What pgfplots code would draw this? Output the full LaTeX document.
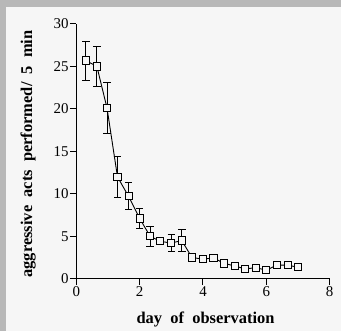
\documentclass[border=0pt]{standalone}
\usepackage{pgfplots}
\pgfplotsset{compat=1.18}
\usepackage{fontspec}
\setmainfont{Liberation Serif}
\definecolor{frame}{gray}{0.72}
\definecolor{paper}{gray}{0.965}
\pgfplotstableread{
x y e
0.30 25.7 2.3
0.65 25.0 2.4
0.97 20.1 3.0
1.30 12.0 2.4
1.65 9.7 1.6
2.00 7.1 1.2
2.33 5.0 1.2
2.65 4.4 0.0
3.00 4.2 1.0
3.33 4.5 1.3
3.65 2.5 0.0
4.00 2.3 0.0
4.33 2.45 0.0
4.67 1.8 0.0
5.00 1.5 0.0
5.33 1.15 0.0
5.67 1.3 0.0
6.00 1.0 0.0
6.33 1.6 0.0
6.67 1.6 0.0
7.00 1.35 0.0
}\datatable
\begin{document}
\begin{tikzpicture}[x=1bp,y=1bp]
\fill[frame] (0,0) rectangle (341,331);
\fill[paper] (6,0) rectangle (341,324);
\path[use as bounding box] (0,0) rectangle (341,331);
\begin{axis}[
  at={(76.3bp,52.3bp)}, anchor=south west,
  scale only axis, width=253.4bp, height=254.7bp,
  xmin=0, xmax=8, ymin=0, ymax=30,
  axis x line=bottom, axis y line=left,
  axis line style={-, line width=1bp, black},
  xtick={0,2,4,6,8}, ytick={0,5,10,15,20,25,30},
  tick align=outside, major tick length=6.5bp,
  tick style={line width=1bp, black},
  ticklabel style={font=\fontsize{15}{15}\selectfont, inner sep=1bp},
  /pgf/number format/assume math mode=true,
  xlabel={\bfseries day\ \ of\ \ observation},
  ylabel={\bfseries aggressive\ \ acts\ \ performed/\ \ 5\ \ min},
  label style={font=\fontsize{16.5}{17}\selectfont},
  xlabel style={at={(axis description cs:0.51,-0.162)}, anchor=center},
  ylabel style={at={(axis description cs:-0.19,0.49)}, anchor=center},
  clip=false,
]
\addplot[black, line width=0.9bp, mark=square*, mark size=3.6bp,
  mark options={fill=paper, draw=black, line width=0.9bp},
  error bars/.cd, y dir=both, y explicit,
  error mark options={rotate=90, mark size=3.8bp, line width=0.9bp, black},
  error bar style={line width=0.9bp, black}]
  table[x=x, y=y, y error=e] {\datatable};
\end{axis}
\end{tikzpicture}
\end{document}
